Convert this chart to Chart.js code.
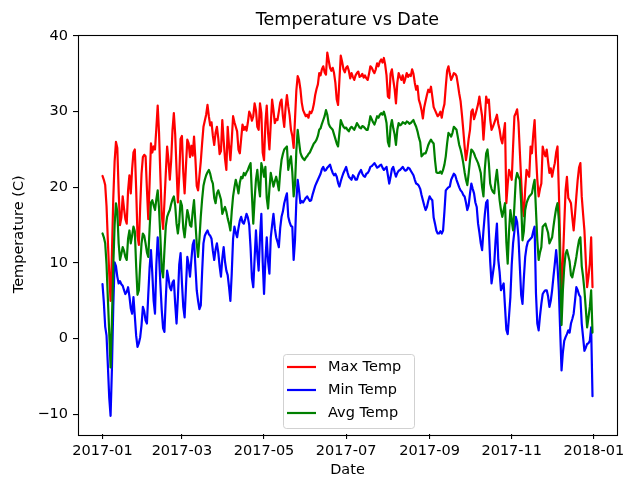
<!DOCTYPE html>
<html>
<head>
<meta charset="utf-8">
<title>Temperature vs Date</title>
<style>
  html, body { margin: 0; padding: 0; background: #ffffff; }
  canvas { display: block; }
</style>
<script src="https://cdn.jsdelivr.net/npm/chart.js"></script>
</head>
<body>
<canvas id="chart" width="623" height="479"></canvas>
<script>
// Daily readings for 2017, one value per day starting on startDate (degrees C).
const startDate = '2017-01-01';
const seriesNames = ['Max Temp', 'Min Temp', 'Avg Temp'];
const tickLabels = ['2017-01', '2017-03', '2017-05', '2017-07', '2017-09', '2017-11', '2018-01'];
const yTickValues = [-10, 0, 10, 20, 30, 40];

const maxTemp = [
  21.5, 21.0, 20.3, 17.5, 12.8, 8.6, 5.0, 11.2, 18.5, 23.4,
  26.0, 25.2, 19.5, 15.0, 16.0, 18.8, 17.2, 15.8, 15.2, 19.6,
  21.6, 19.2, 22.4, 24.6, 25.0, 19.8, 13.6, 12.4, 17.5, 21.8,
  24.0, 24.3, 24.1, 19.8, 15.8, 20.6, 25.8, 24.6, 25.4, 25.0,
  27.8, 30.8, 27.2, 21.5, 16.4, 14.5, 18.0, 21.8, 25.4, 23.6,
  21.0, 23.5, 27.6, 29.8, 27.0, 22.4, 18.0, 21.5, 26.4, 26.8,
  22.0, 19.2, 22.8, 26.3, 25.8, 24.0, 25.5, 24.2, 26.7, 23.8,
  20.2, 19.6, 21.5, 23.4, 25.8, 28.0, 28.8, 29.6, 30.9, 29.4,
  28.2, 28.6, 26.8, 25.6, 27.2, 28.0, 26.5, 24.4, 24.8, 28.9,
  26.2, 23.8, 22.3, 28.0, 25.5, 23.6, 26.2, 29.4, 28.6, 28.0,
  27.4, 25.0, 24.5, 26.4, 28.3, 27.6, 28.0, 27.5, 28.6, 30.0,
  29.6, 28.8, 29.4, 31.1, 30.2, 28.0, 27.6, 31.1, 29.8, 24.6,
  23.6, 28.5, 30.8, 27.2, 25.0, 28.4, 31.6, 30.2, 28.5, 29.0,
  28.9, 30.0, 31.2, 31.6, 29.4, 28.0, 30.5, 32.2, 30.7, 29.5,
  27.6, 26.8, 25.2, 29.0, 32.8, 34.7, 34.2, 33.0, 31.2, 30.2,
  29.8, 29.4, 29.6, 29.2, 30.0, 29.8, 30.2, 31.0, 32.2, 33.0,
  33.6, 35.1, 34.8, 35.6, 36.0, 35.2, 34.9, 37.8, 36.8, 35.8,
  35.4, 35.8, 35.1, 33.8, 31.6, 30.9, 34.2, 37.4, 36.6, 35.6,
  35.2, 35.8, 36.0, 35.4, 34.4, 35.1, 34.6, 34.2, 34.8, 35.1,
  35.3, 34.6, 34.7, 35.0, 34.5, 34.8, 34.4, 34.2, 35.0, 36.0,
  35.8, 35.4, 35.1, 35.6, 36.4, 36.0, 36.6, 36.9, 36.5, 37.1,
  36.2, 34.8, 32.0, 31.8, 35.0, 35.6, 34.2, 33.0, 31.1, 33.8,
  35.1, 34.6, 34.2, 34.8, 33.8, 34.4, 35.1, 34.6, 34.9, 34.7,
  35.6, 35.0, 33.8, 32.9, 33.4, 31.6, 31.0, 30.2, 29.1, 30.6,
  31.4, 32.2, 32.9, 32.6, 33.3, 32.0, 30.6, 30.2, 29.8, 29.4,
  29.6, 30.0, 29.2, 30.3, 31.0, 33.3, 35.4, 36.0, 35.0, 34.2,
  34.6, 35.1, 35.0, 34.7, 33.6, 32.4, 31.4, 29.6, 27.6, 25.4,
  23.6, 24.8, 26.4, 27.6, 30.0, 30.3, 29.0, 29.6, 30.3, 31.0,
  32.0, 30.6, 29.4, 26.3, 28.8, 32.0, 31.2, 31.6, 29.0, 27.6,
  28.0, 28.5, 29.0, 29.6, 28.4, 27.6, 26.4, 25.8, 27.2, 28.5,
  17.9, 20.4, 22.3, 21.8, 21.0, 25.4, 29.4, 29.8, 30.3, 28.6,
  24.8, 21.0, 17.5, 16.2, 19.8, 22.3, 21.8, 21.4, 25.4, 24.5,
  27.0, 28.9, 24.4, 21.0, 18.8, 19.8, 20.5, 25.4, 24.6, 24.1,
  25.0, 23.4, 21.9, 22.5, 21.4, 22.4, 23.2, 24.6, 25.4, 19.5,
  12.0, 5.4, 10.2, 15.0, 19.6, 21.4, 18.6, 18.3, 17.9, 16.0,
  14.3, 16.4, 18.8, 21.0, 22.6, 23.2, 18.8, 16.5, 14.3, 10.4,
  6.8, 8.2, 9.9, 13.4, 6.8
];

const minTemp = [
  7.2, 4.8, 1.6, 0.4, -3.6, -7.8, -10.2, -4.0, 4.2, 10.1,
  9.6, 8.2, 7.3, 7.6, 7.2, 7.0, 6.4, 5.9, 6.2, 6.8,
  5.6, 4.0, 3.3, 5.5, 3.0, 0.4, -1.1, -0.6, 0.2, 1.8,
  4.2, 3.6, 2.4, 2.0, 5.8, 9.4, 11.7, 8.6, 5.0, 3.3,
  9.8, 13.4, 11.0, 7.2, 3.8, 1.4, 0.9, 5.2, 9.0, 8.0,
  6.8, 6.4, 7.4, 7.7, 4.6, 2.0, 5.4, 9.8, 11.3, 7.4,
  4.2, 2.8, 6.8, 10.8, 9.8, 8.2, 10.4, 12.4, 13.0, 9.6,
  6.4, 5.0, 3.9, 4.4, 8.8, 12.6, 13.6, 14.0, 14.3, 13.8,
  13.6, 13.2, 11.6, 10.4, 11.8, 12.6, 11.4, 9.6, 8.2, 10.6,
  12.1, 10.2, 9.0, 8.4, 6.8, 5.0, 8.6, 13.2, 14.8, 14.0,
  13.4, 14.6, 15.6, 16.1, 15.4, 15.2, 15.8, 16.5, 16.0, 15.0,
  12.0, 8.0, 6.8, 10.6, 14.3, 11.2, 9.0, 13.4, 16.5, 10.2,
  5.9, 10.4, 13.4, 10.2, 8.6, 13.4, 15.0, 16.5, 14.6, 13.4,
  12.8, 12.1, 14.6, 16.1, 16.8, 17.9, 18.6, 19.2, 16.1, 15.4,
  14.9, 14.8, 10.4, 13.0, 18.2, 21.0, 19.6, 17.9, 18.2, 18.0,
  18.3, 18.6, 18.8, 18.5, 18.2, 18.3, 19.0, 19.6, 20.2, 20.6,
  21.0, 21.4, 21.8, 22.4, 22.7, 22.2, 22.3, 22.6, 22.8, 23.0,
  22.4, 21.9, 21.6, 21.8, 21.4, 20.6, 20.1, 20.8, 21.4, 21.9,
  22.3, 22.7, 22.0, 21.4, 21.2, 21.0, 21.6, 21.4, 21.0, 21.0,
  21.6, 22.0, 22.3, 21.8, 21.5, 21.4, 21.8, 21.9, 22.2, 22.7,
  22.8, 23.0, 23.2, 22.9, 22.6, 22.7, 22.9, 23.0, 22.6, 22.3,
  22.5, 22.7, 21.6, 20.5, 21.4, 22.4, 22.7, 22.0, 21.4, 21.9,
  22.2, 22.3, 22.5, 22.7, 22.4, 22.2, 22.3, 22.6, 22.5, 22.2,
  21.9, 21.6, 21.0, 20.5, 20.4, 20.2, 19.8, 19.0, 18.3, 17.6,
  17.0, 17.4, 18.2, 18.8, 18.5, 18.3, 16.0, 15.2, 14.3, 13.9,
  13.9, 14.2, 13.9, 14.3, 16.8, 19.6, 19.8, 20.0, 20.1, 21.0,
  21.4, 21.8, 21.6, 21.0, 20.5, 20.0, 19.6, 19.4, 19.0, 18.8,
  18.0, 17.0, 17.6, 19.2, 20.5, 19.8, 19.2, 18.0, 17.4, 15.2,
  14.0, 12.6, 11.7, 14.3, 16.4, 18.0, 18.3, 14.3, 10.2, 7.3,
  8.6, 9.9, 13.0, 15.2, 10.4, 8.8, 6.4, 6.8, 7.3, 4.2,
  1.2, 0.6, 3.0, 5.5, 9.8, 12.6, 14.2, 16.1, 15.4, 13.4,
  9.6, 5.8, 4.6, 8.0, 10.8, 12.1, 12.8, 13.0, 13.2, 13.4,
  14.2, 14.8, 6.0, 2.0, 1.1, 3.0, 4.6, 5.9, 6.2, 6.4,
  6.4, 5.6, 4.2, 5.0, 6.4, 8.2, 9.9, 11.7, 9.6, 6.4,
  1.0, -4.2, -1.8, -0.3, 0.2, 0.6, 1.1, 0.8, 2.0, 2.6,
  3.3, 5.0, 6.8, 6.4, 5.8, 5.5, 2.0, 0.2, -1.6, -1.2,
  -0.7, -0.6, -0.3, 1.5, -7.6
];

const avgTemp = [
  13.9, 13.4, 12.6, 9.8, 5.2, 0.8, -3.8, 2.4, 9.6, 15.0,
  17.9, 16.8, 12.6, 10.4, 11.2, 12.1, 11.6, 10.8, 10.4, 13.2,
  14.3, 12.6, 13.6, 14.8, 14.2, 9.6, 5.8, 6.4, 9.8, 12.6,
  13.9, 13.6, 12.6, 11.4, 10.8, 14.6, 18.0, 18.3, 17.6, 17.0,
  18.4, 19.6, 17.2, 13.4, 9.2, 8.1, 11.6, 14.8, 16.1, 16.6,
  17.0, 17.8, 18.4, 18.8, 17.6, 15.2, 13.9, 15.4, 18.2, 17.6,
  14.6, 13.4, 15.2, 17.0, 16.2, 15.0, 14.8, 16.8, 18.3, 15.4,
  12.6, 10.8, 13.2, 16.1, 18.4, 20.2, 21.0, 21.6, 22.0, 22.3,
  21.8, 21.0, 20.5, 18.6, 17.9, 19.2, 19.6, 19.0, 18.4, 16.5,
  17.0, 17.4, 16.8, 15.9, 15.2, 14.3, 16.8, 18.8, 20.0, 21.0,
  20.2, 19.2, 20.6, 21.4, 21.2, 21.9, 21.6, 22.0, 22.3, 22.8,
  23.2, 19.0, 15.2, 18.4, 21.0, 22.3, 20.2, 18.8, 23.2, 22.4,
  21.4, 22.7, 18.6, 17.2, 19.8, 21.9, 21.0, 20.1, 20.8, 21.4,
  20.6, 19.6, 22.0, 23.6, 24.4, 25.0, 25.2, 25.4, 22.3, 23.4,
  24.1, 22.0, 18.8, 20.4, 24.8, 27.6, 26.0, 24.6, 24.1, 23.8,
  23.6, 23.9, 24.1, 24.4, 24.6, 25.0, 25.4, 25.8, 26.0, 26.3,
  26.8, 27.6, 27.8, 28.4, 28.9, 29.4, 30.2, 29.6, 28.4, 28.0,
  27.8, 27.6, 27.0, 26.4, 25.8, 25.4, 27.2, 28.9, 28.4, 28.0,
  27.8, 27.9, 27.6, 27.4, 27.8, 28.0, 27.8, 27.6, 28.0, 28.5,
  28.2, 27.9, 27.8, 28.1, 28.0, 27.8, 27.6, 27.6, 28.4, 29.4,
  29.0, 28.6, 28.3, 28.8, 29.4, 29.2, 29.6, 29.8, 29.6, 30.0,
  29.4, 28.5, 26.0, 25.4, 28.0, 28.9, 27.8, 27.0, 25.6, 27.6,
  28.5, 28.2, 28.3, 28.6, 28.5, 28.4, 28.7, 28.6, 28.4, 28.5,
  28.7, 28.9, 28.4, 28.0, 27.4, 26.6, 26.0, 24.1, 24.3, 24.5,
  24.5, 25.0, 25.6, 26.0, 26.3, 26.0, 25.8, 23.6, 22.0, 21.9,
  21.9, 22.1, 21.8, 22.3, 23.0, 24.1, 25.8, 27.2, 27.0, 26.7,
  27.2, 28.0, 27.8, 27.6, 26.6, 25.6, 25.0, 24.2, 23.2, 22.0,
  21.0, 20.3, 21.8, 23.6, 25.0, 24.8, 24.5, 24.0, 23.6, 23.2,
  22.6, 21.9, 20.0, 18.8, 22.4, 24.5, 25.0, 23.2, 20.5, 19.8,
  19.4, 19.2, 21.0, 22.3, 20.4, 18.3, 17.0, 16.1, 17.0, 17.9,
  12.8, 9.9, 14.2, 17.0, 15.6, 14.3, 17.6, 21.0, 21.9, 21.4,
  21.0, 18.0, 13.0, 14.2, 17.0, 17.9, 18.4, 18.8, 19.0, 19.2,
  20.2, 21.0, 17.0, 13.0, 10.4, 11.4, 12.1, 14.8, 15.0, 15.2,
  14.6, 14.0, 12.6, 13.0, 13.4, 14.8, 16.1, 17.2, 17.9, 15.7,
  9.0, 1.8, 6.4, 9.4, 11.2, 11.7, 11.0, 10.2, 8.4, 8.1,
  9.0, 9.8, 10.8, 12.0, 13.0, 13.4, 9.6, 8.2, 6.4, 4.0,
  1.5, 2.8, 4.2, 6.4, 0.8
];

// Day offsets from startDate for each month tick.
const DAY_MS = 86400000;
const t0 = Date.parse(startDate + 'T00:00:00Z');
const tickDays = tickLabels.map(m => Math.round((Date.parse(m + '-01T00:00:00Z') - t0) / DAY_MS));
const toPoints = arr => arr.map((v, i) => ({ x: i, y: v }));

// 5% auto-margins around the data, as in a default plot.
const lastDay = maxTemp.length - 1;
const xMargin = lastDay * 0.05;
const yLow = Math.min(...minTemp, ...avgTemp, ...maxTemp);
const yHigh = Math.max(...minTemp, ...avgTemp, ...maxTemp);
const yMargin = (yHigh - yLow) * 0.05;

const FONT = 'DejaVu Sans';
Chart.defaults.font.family = FONT;
Chart.defaults.color = '#000000';

const fmtNum = v => (v < 0 ? '\u2212' + Math.abs(v) : String(v));

// Black box around the plotting area.
const axesFrame = {
  id: 'axesFrame',
  afterDatasetsDraw(chart) {
    const { ctx, chartArea: a } = chart;
    ctx.save();
    ctx.strokeStyle = '#000000';
    ctx.lineWidth = 1.1;
    ctx.strokeRect(Math.round(a.left) + 0.5, Math.round(a.top) + 0.5,
      Math.round(a.right - a.left), Math.round(a.bottom - a.top));
    ctx.restore();
  }
};

// Framed legend inside the plot, lower centre.
const boxLegend = {
  id: 'boxLegend',
  afterDraw(chart, args, o) {
    const ctx = chart.ctx;
    ctx.save();
    ctx.beginPath();
    ctx.roundRect(o.x + 0.5, o.y + 0.5, o.w, o.h, 3);
    ctx.fillStyle = 'rgba(255,255,255,0.8)';
    ctx.fill();
    ctx.strokeStyle = 'rgba(204,204,204,0.9)';
    ctx.lineWidth = 1;
    ctx.stroke();
    ctx.font = o.fontSize + 'px "' + FONT + '"';
    ctx.textBaseline = 'middle';
    ctx.textAlign = 'left';
    chart.data.datasets.forEach((ds, i) => {
      const cy = o.y + o.firstRow + i * o.rowGap;
      ctx.strokeStyle = ds.borderColor;
      ctx.lineWidth = ds.borderWidth;
      ctx.beginPath();
      ctx.moveTo(o.x + o.pad, cy);
      ctx.lineTo(o.x + o.pad + o.handle, cy);
      ctx.stroke();
      ctx.fillStyle = '#000000';
      ctx.fillText(ds.label, o.x + o.pad + o.handle + o.gap, cy + 0.5);
    });
    ctx.restore();
  }
};

new Chart(document.getElementById('chart'), {
  type: 'line',
  data: {
    datasets: [
      { label: seriesNames[0], data: toPoints(maxTemp), borderColor: '#ff0000', borderWidth: 2.2, order: 3 },
      { label: seriesNames[1], data: toPoints(minTemp), borderColor: '#0000ff', borderWidth: 2.2, order: 2 },
      { label: seriesNames[2], data: toPoints(avgTemp), borderColor: '#008000', borderWidth: 2.2, order: 1 }
    ]
  },
  options: {
    responsive: false,
    animation: false,
    devicePixelRatio: 1,
    events: [],
    layout: { padding: { left: 0, right: 6, top: 0, bottom: 0 } },
    elements: {
      point: { radius: 0, hoverRadius: 0 },
      line: { tension: 0, fill: false, borderJoinStyle: 'round', borderCapStyle: 'round' }
    },
    plugins: {
      legend: { display: false },
      tooltip: { enabled: false },
      title: {
        display: true,
        fullSize: false,
        text: 'Temperature vs Date',
        color: '#000000',
        font: { family: FONT, size: 17.5, weight: 'normal' },
        padding: { top: 9.5, bottom: 4 }
      },
      boxLegend: { x: 283, y: 354, w: 131, h: 74, firstRow: 13, rowGap: 23, pad: 4, handle: 29, gap: 12, fontSize: 14.5 }
    },
    scales: {
      x: {
        type: 'linear',
        min: -xMargin,
        max: lastDay + xMargin,
        afterBuildTicks: s => { s.ticks = tickDays.map(v => ({ value: v })); },
        afterFit: s => { s.height = 45; s.paddingLeft = 0; s.paddingRight = 0; },
        ticks: {
          autoSkip: false, maxRotation: 0, padding: 4,
          font: { size: 14.5 }, color: '#000000',
          callback: (v, i) => tickLabels[i]
        },
        grid: { drawOnChartArea: false, drawTicks: true, tickLength: 5, color: '#000000', lineWidth: 1.1 },
        border: { display: false },
        title: { display: true, text: 'Date', color: '#000000', font: { size: 14.5 }, padding: { top: 0, bottom: 0 } }
      },
      y: {
        type: 'linear',
        min: yLow - yMargin,
        max: yHigh + yMargin,
        afterBuildTicks: s => { s.ticks = yTickValues.map(v => ({ value: v })); },
        afterFit: s => { s.width = 78; s.paddingTop = 0; s.paddingBottom = 0; },
        ticks: {
          autoSkip: false, padding: 5,
          font: { size: 14.5 }, color: '#000000',
          callback: v => fmtNum(v)
        },
        grid: { drawOnChartArea: false, drawTicks: true, tickLength: 5, color: '#000000', lineWidth: 1.1 },
        border: { display: false },
        title: { display: true, text: 'Temperature (C)', color: '#000000', font: { size: 14.5 }, padding: { top: 11, bottom: 0 } }
      }
    }
  },
  plugins: [axesFrame, boxLegend]
});
</script>
</body>
</html>
